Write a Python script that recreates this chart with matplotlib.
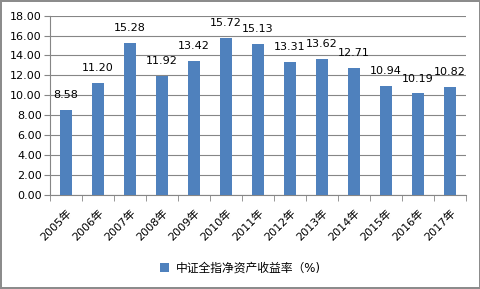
import numpy as np
import matplotlib
matplotlib.use('Agg')
import matplotlib.pyplot as plt

plt.rcParams['font.family'] = ['DejaVu Sans', 'Noto Sans CJK SC']

# data
years = ['2005年', '2006年', '2007年', '2008年', '2009年', '2010年', '2011年',
         '2012年', '2013年', '2014年', '2015年', '2016年', '2017年']
roe = [8.58, 11.20, 15.28, 11.92, 13.42, 15.72, 15.13,
       13.31, 13.62, 12.71, 10.94, 10.19, 10.82]
series_name = '中证全指净资产收益率（%)'

fig = plt.figure(figsize=(4.81, 2.89), dpi=100, linewidth=1.5, edgecolor='#8c8c8c')
ax = fig.add_axes([0.104, 0.325, 0.865, 0.621])

x = np.arange(len(years))
bars = ax.bar(x, roe, width=0.4, color='#4F81BD', label=series_name, zorder=3)

for xi, v in zip(x, roe):
    ax.text(xi, v + 1.0, '%.2f' % v, ha='center', va='bottom', fontsize=8, color='black')

ax.set_ylim(0, 18)
ax.set_yticks(np.arange(0, 18.01, 2))
ax.set_yticklabels(['%.2f' % t for t in np.arange(0, 18.01, 2)], fontsize=8)
ax.set_xlim(-0.5, len(years) - 0.5)
ax.set_xticks(x)
ax.set_xticklabels(years, rotation=45, ha='right', rotation_mode='anchor', fontsize=8)
ax.tick_params(axis='x', length=0, pad=9)
ax.set_xticks(np.arange(-0.5, len(years), 1), minor=True)
ax.tick_params(axis='x', which='minor', length=4, color='#868686')
ax.tick_params(axis='y', length=4, color='#868686', pad=2)

ax.grid(axis='y', color='#868686', linewidth=0.8, zorder=0)
for s in ['top', 'right']:
    ax.spines[s].set_visible(False)
for s in ['left', 'bottom']:
    ax.spines[s].set_color('#868686')

fig.legend(handles=[bars], labels=[series_name], loc='center', bbox_to_anchor=(0.5, 0.072),
           frameon=False, fontsize=8.5, handlelength=0.7, handleheight=0.7, handletextpad=0.6)

fig.savefig('out.png', dpi=100)
plt.close()
